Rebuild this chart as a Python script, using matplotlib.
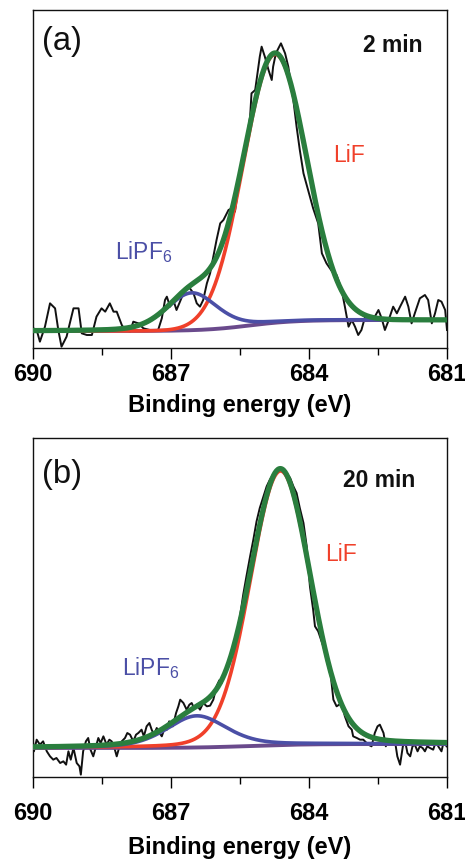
import numpy as np
import matplotlib
matplotlib.use("Agg")
import matplotlib.pyplot as plt

plt.rcParams['font.family'] = ['Liberation Sans', 'DejaVu Sans']
plt.rcParams['mathtext.fontset'] = 'custom'
plt.rcParams['mathtext.rm'] = 'Liberation Sans'
plt.rcParams['mathtext.it'] = 'Liberation Sans:italic'
plt.rcParams['mathtext.bf'] = 'Liberation Sans:bold'
plt.rcParams['mathtext.default'] = 'regular'

# ---------------- data: panel (a), 2 min ----------------
energy_a = [689.99, 689.92, 689.85, 689.74, 689.63, 689.52, 689.45, 689.38, 689.27, 689.20,
            689.12, 689.01, 688.94, 688.83, 688.72, 688.62, 688.51, 688.43, 688.33, 688.25,
            688.18, 688.07, 688.00, 687.89, 687.82, 687.71, 687.60, 687.46, 687.28, 687.20,
            687.13, 687.09, 687.02, 686.95, 686.88, 686.73, 686.66, 686.59, 686.51, 686.44,
            686.37, 686.30, 686.22, 686.15, 686.08, 686.01, 685.93, 685.86, 685.75, 685.68,
            685.61, 685.50, 685.43, 685.36, 685.28, 685.25, 685.17, 685.07, 685.03, 684.96,
            684.88, 684.81, 684.78, 684.72, 684.61, 684.52, 684.45, 684.34, 684.27, 684.20,
            684.12, 683.91, 683.80, 683.72, 683.62, 683.47, 683.40, 683.29, 683.22, 683.14,
            683.07, 683.00, 682.93, 682.86, 682.78, 682.71, 682.57, 682.49, 682.42, 682.35,
            682.28, 682.17, 682.09, 682.02, 681.91, 681.84, 681.77, 681.70, 681.59, 681.48,
            681.41, 681.33, 681.26, 681.19, 681.12, 681.04, 681.00]
counts_a = [65, 60, 25, 70, 140, 125, 60, 10, 40, 80,
            125, 125, 50, 45, 45, 100, 125, 115, 140, 115,
            115, 75, 60, 55, 85, 80, 65, 60, 60, 95,
            150, 160, 130, 150, 120, 170, 190, 185, 170, 140,
            130, 150, 200, 230, 280, 330, 380, 390, 420, 425,
            415, 520, 580, 630, 700, 770, 780, 880, 910, 880,
            840, 810, 850, 890, 920, 890, 850, 750, 670, 600,
            530, 425, 380, 290, 260, 230, 225, 180, 130, 70,
            90, 70, 45, 60, 100, 95, 100, 120, 95, 60,
            85, 130, 110, 130, 160, 130, 80, 110, 155, 165,
            150, 80, 110, 150, 145, 120, 60]

# fitted components (a): LiF, LiPF6 -> centre (eV), height, FWHM (eV), Lorentzian fraction
peaks_a_center = [684.74, 686.55]
peaks_a_height = [805, 112]
peaks_a_fwhm = [1.62, 1.30]
peaks_a_eta = [0.0, 0.3]
# background (a): low-energy-side level, high-energy-side level, step centre, step width
bg_a = [90, 57, 685.3, 0.5]

# ---------------- data: panel (b), 20 min ----------------
energy_b = [690.00, 689.98, 689.92, 689.85, 689.78, 689.70, 689.63, 689.56, 689.49, 689.41,
            689.34, 689.28, 689.23, 689.18, 689.12, 689.05, 688.99, 688.96, 688.91, 688.85,
            688.80, 688.75, 688.69, 688.63, 688.58, 688.53, 688.47, 688.40, 688.34, 688.29,
            688.24, 688.18, 688.12, 688.07, 688.00, 687.95, 687.89, 687.82, 687.76, 687.71,
            687.64, 687.59, 687.53, 687.47, 687.42, 687.37, 687.31, 687.25, 687.20, 687.15,
            687.09, 687.04, 686.96, 686.89, 686.84, 686.80, 686.73, 686.66, 686.60, 686.55,
            686.50, 686.44, 686.37, 686.30, 686.22, 686.15, 686.08, 686.01, 685.95, 685.90,
            685.83, 685.75, 685.64, 685.57, 685.50, 685.43, 685.36, 685.28, 685.21, 685.14,
            685.07, 684.99, 684.92, 684.85, 684.78, 684.70, 684.63, 684.56, 684.49, 684.41,
            684.34, 684.27, 684.20, 684.12, 684.05, 683.98, 683.91, 683.87, 683.80, 683.69,
            683.62, 683.54, 683.47, 683.40, 683.29, 683.22, 683.14, 683.07, 683.04, 682.96,
            682.89, 682.82, 682.71, 682.64, 682.57, 682.51, 682.46, 682.38, 682.33, 682.28,
            682.20, 682.13, 682.08, 682.02, 681.96, 681.91, 681.86, 681.80, 681.75, 681.70,
            681.64, 681.59, 681.53, 681.48, 681.43, 681.37, 681.30, 681.24, 681.19, 681.12,
            681.07, 681.01]
counts_b = [115, 85, 120, 105, 115, 85, 70, 60, 65, 50,
            55, 45, 85, 60, 95, 50, 40, 15, 85, 115,
            125, 90, 70, 100, 125, 110, 130, 105, 120, 115,
            100, 70, 100, 115, 125, 140, 135, 115, 135, 140,
            150, 130, 160, 170, 150, 135, 155, 140, 130, 150,
            150, 175, 160, 200, 220, 240, 230, 210, 225, 230,
            215, 225, 210, 230, 220, 222, 240, 280, 298, 290,
            325, 350, 385, 440, 490, 555, 610, 670, 720, 775,
            815, 850, 880, 900, 915, 925, 928, 930, 920, 905,
            880, 860, 815, 770, 700, 580, 510, 460, 445, 400,
            370, 330, 240, 220, 230, 190, 160, 150, 130, 125,
            120, 120, 105, 100, 140, 160, 165, 140, 100, 120,
            105, 115, 70, 45, 100, 115, 80, 70, 100, 105,
            85, 100, 95, 85, 100, 95, 90, 115, 100, 85,
            115, 100]

peaks_b_center = [684.62, 686.44]
peaks_b_height = [822, 95]
peaks_b_fwhm = [1.55, 1.55]
peaks_b_eta = [0.1, 0.4]
bg_b = [107, 95, 685.3, 0.6]

x_ticks = [690, 687, 684, 681]
x_minor = [688.5, 685.5, 682.5]

C_BLACK = '#111111'
C_RED = '#f0402a'
C_BLUE = '#4b4fa6'
C_PURPLE = '#6a4a8c'
C_GREEN = '#2a7e3e'


def pseudo_voigt(x, c, h, w, eta):
    u = 4.0 * (x - c) ** 2 / w ** 2
    return h * ((1 - eta) * np.exp(-np.log(2) * u) + eta / (1 + u))


def background(x, p):
    low_side, high_side, c, s = p
    return high_side + (low_side - high_side) / (1 + np.exp((x - c) / s))


def panel(ax, e, cts, centers, heights, fwhms, etas, bgp, ylim, label, time,
          pos_lab, pos_time, pos_lif, pos_lipf, tickpad, labpad):
    grid = np.linspace(690.2, 680.8, 600)
    bg = background(grid, bgp)
    lif = pseudo_voigt(grid, centers[0], heights[0], fwhms[0], etas[0])
    lipf = pseudo_voigt(grid, centers[1], heights[1], fwhms[1], etas[1])

    ax.plot(e, cts, color=C_BLACK, lw=1.4, zorder=2)
    ax.plot(grid, bg, color=C_PURPLE, lw=2.8, zorder=3, solid_capstyle='round')
    ax.plot(grid, bg + lif, color=C_RED, lw=2.6, zorder=4, solid_capstyle='round')
    ax.plot(grid, bg + lipf, color=C_BLUE, lw=2.6, zorder=4, solid_capstyle='round')
    ax.plot(grid, bg + lif + lipf, color=C_GREEN, lw=3.8, zorder=5, solid_capstyle='round')

    ax.set_xlim(690, 681)
    ax.set_ylim(*ylim)
    ax.set_xticks(x_ticks)
    ax.set_xticks(x_minor, minor=True)
    ax.set_xticklabels([str(t) for t in x_ticks], fontsize=17, fontweight='bold')
    ax.set_yticks([])
    ax.tick_params(axis='x', which='major', direction='out', length=8, width=1.0,
                   pad=tickpad, top=False)
    ax.tick_params(axis='x', which='minor', direction='out', length=5, width=1.0, top=False)
    for sp in ax.spines.values():
        sp.set_linewidth(1.0)
        sp.set_color('#111111')
    ax.set_xlabel('Binding energy (eV)', fontsize=17, fontweight='bold', labelpad=labpad)

    ax.text(pos_lab[0], pos_lab[1], label, transform=ax.transAxes, fontsize=23.5,
            ha='left', va='baseline', color='#111111')
    ax.text(pos_time[0], pos_time[1], time, transform=ax.transAxes, fontsize=16.5,
            fontweight='bold', ha='right', va='baseline', color='#111111')
    ax.text(pos_lif[0], pos_lif[1], 'LiF', transform=ax.transAxes, fontsize=16.5,
            ha='left', va='baseline', color=C_RED)
    ax.text(pos_lipf[0], pos_lipf[1], 'LiPF$_{6}$', transform=ax.transAxes, fontsize=16.5,
            ha='left', va='baseline', color=C_BLUE)


fig = plt.figure(figsize=(4.65, 8.68), dpi=100)
ax_a = fig.add_axes([33 / 465, 1 - 348 / 868, 414 / 465, 338 / 868])
ax_b = fig.add_axes([33 / 465, 1 - 777 / 868, 414 / 465, 339 / 868])

panel(ax_a, energy_a, counts_a, peaks_a_center, peaks_a_height, peaks_a_fwhm, peaks_a_eta,
      bg_a, (6, 1020), '(a)', '2 min',
      (0.022, 0.882), (0.94, 0.876), (0.725, 0.550), (0.198, 0.262), 2.5, 6.0)
panel(ax_b, energy_b, counts_b, peaks_b_center, peaks_b_height, peaks_b_fwhm, peaks_b_eta,
      bg_b, (8, 1025), '(b)', '20 min',
      (0.022, 0.867), (0.923, 0.855), (0.705, 0.637), (0.215, 0.301), 9.7, 8.3)

fig.savefig('out.png', dpi=100)
